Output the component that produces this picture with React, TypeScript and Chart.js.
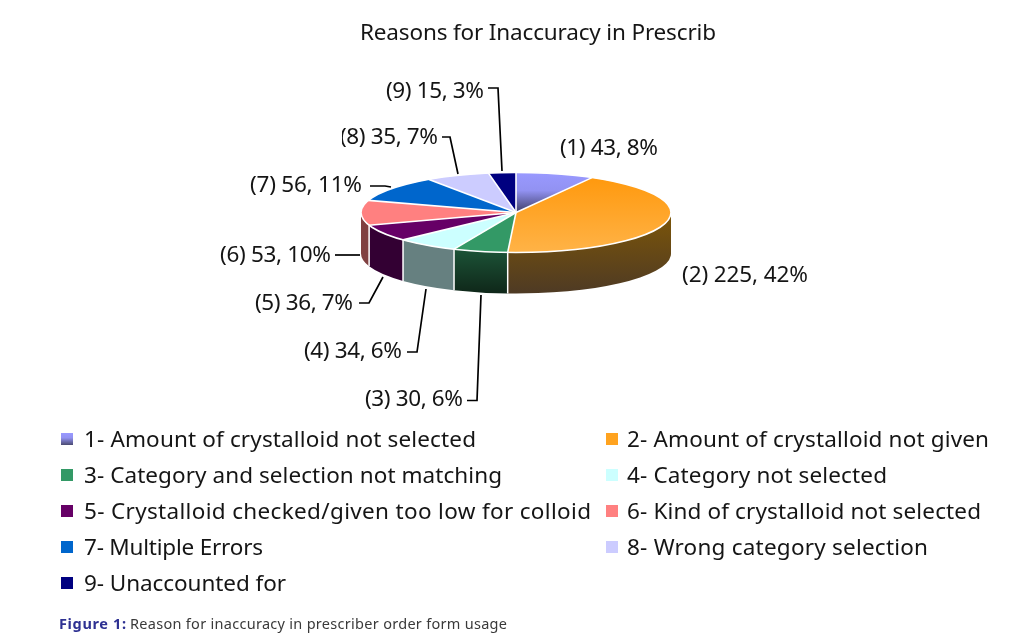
import React, { useEffect, useRef } from "react";
import { Chart, registerables } from "chart.js";

Chart.register(...registerables);

const chartTitle = "Reasons for Inaccuracy in Prescrib";
const captionLead = "Figure 1:";
const captionBody = "Reason for inaccuracy in prescriber order form usage";

const categories = [
  "1- Amount of crystalloid not selected",
  "2- Amount of crystalloid not given",
  "3- Category and selection not matching",
  "4- Category not selected",
  "5- Crystalloid checked/given too low for colloid",
  "6- Kind of crystalloid not selected",
  "7- Multiple Errors",
  "8- Wrong category selection",
  "9- Unaccounted for",
];
const values = [43, 225, 30, 34, 36, 53, 56, 35, 15];
const percents = [8, 42, 6, 6, 7, 10, 11, 7, 3];

const faceColors = ["#9999ff", "#ffa31f", "#339966", "#ccffff", "#660066", "#ff8080", "#0066cc", "#ccccff", "#000080"];
const wallColors = ["#4d4d80", "#6b4a18", "#1a4d33", "#668080", "#330033", "#804040", "#003366", "#666680", "#000040"];

// Pie geometry on the page
const CX = 516;
const CY = 212.5;
const RX = 155;
const RY = 40;
const DEPTH = 41;
const K = RY / RX;
const FONT = "'Noto Sans', sans-serif";
const INK = "#151515";

// text right edge, text width, text y, leader polyline; entries 0 and 1 have no leader
const labelLayout: { right: number; width: number; y: number; line: number[][] }[] = [
  { right: 658, width: 98, y: 147, line: [] },
  { right: 808, width: 126, y: 274, line: [] },
  { right: 463, width: 98, y: 398, line: [[467, 400.5], [477, 400.5], [481, 295]] },
  { right: 402, width: 98, y: 350, line: [[407, 352], [417, 352], [426, 289]] },
  { right: 353, width: 98, y: 302, line: [[359, 303], [369, 303], [383, 277]] },
  { right: 331, width: 111, y: 254, line: [[335, 255], [360, 255]] },
  { right: 362, width: 112, y: 184, line: [[370, 186], [385, 186], [391, 187]] },
  { right: 438, width: 98, y: 136, line: [[442, 137], [450, 137], [458, 174]] },
  { right: 484, width: 98, y: 90, line: [[488, 88], [498, 88], [502, 171]] },
];
const clippedLabelIndex = 7;
const clippedLabelLeft = 342;

// swatch column x, row y, text right edge
const legendColumns = [61, 606];
const legendRows = [439, 475, 511, 547, 583];
const legendEnds = [476, 989, 502, 887, 591, 981, 263, 928, 286];

function fitText(ctx: CanvasRenderingContext2D, text: string, x: number, y: number, width: number, font: string, color: string) {
  ctx.font = font;
  ctx.fillStyle = color;
  ctx.textAlign = "left";
  ctx.textBaseline = "alphabetic";
  (ctx as any).letterSpacing = "0px";
  const w = ctx.measureText(text).width;
  (ctx as any).letterSpacing = `${(width - w) / Math.max(1, text.length - 1)}px`;
  ctx.fillText(text, x, y);
  (ctx as any).letterSpacing = "0px";
}

function faceFill(c: any) {
  const i = c.dataIndex;
  const chart = c.chart;
  if (i === 0) {
    const g = chart.ctx.createLinearGradient(0, CY - RX, 0, CY);
    g.addColorStop(0, "#9999ff");
    g.addColorStop(0.45, "#9292f2");
    g.addColorStop(1, "#3e3e68");
    return g;
  }
  if (i === 1) {
    const g = chart.ctx.createLinearGradient(0, CY - RX, 0, CY + RX);
    g.addColorStop(0.1, "#ff9a10");
    g.addColorStop(1, "#ffb347");
    return g;
  }
  return faceColors[i];
}

function wallFill(ctx: CanvasRenderingContext2D, i: number) {
  if (i === 1) {
    const g = ctx.createLinearGradient(0, CY, 0, CY + RY + DEPTH);
    g.addColorStop(0, "#7d5608");
    g.addColorStop(1, "#4e3a24");
    return g;
  }
  if (i === 2) {
    const g = ctx.createLinearGradient(0, CY + RY, 0, CY + RY + DEPTH);
    g.addColorStop(0, "#1b5035");
    g.addColorStop(1, "#0f2719");
    return g;
  }
  return wallColors[i];
}

const pie3d = {
  id: "pie3d",
  beforeDatasetsDraw(chart: any) {
    const { ctx } = chart;
    const arcs = chart.getDatasetMeta(0).data;
    const { x: cx, y: cy, outerRadius: r } = arcs[0];
    const ry = r * K;
    ctx.save();
    // side walls: only the part of the rim that faces the viewer
    arcs.forEach((arc: any, i: number) => {
      const a = Math.max(arc.startAngle, 0);
      const b = Math.min(arc.endAngle, Math.PI);
      if (b <= a) return;
      ctx.beginPath();
      ctx.ellipse(cx, cy, r, ry, 0, a, b);
      ctx.ellipse(cx, cy + DEPTH, r, ry, 0, b, a, true);
      ctx.closePath();
      ctx.fillStyle = wallFill(ctx, i);
      ctx.fill();
    });
    ctx.strokeStyle = "#ffffff";
    ctx.lineWidth = 1.5;
    arcs.forEach((arc: any) => {
      const a = arc.endAngle;
      if (a > 0 && a < Math.PI) {
        const x = cx + r * Math.cos(a);
        const y = cy + ry * Math.sin(a);
        ctx.beginPath();
        ctx.moveTo(x, y);
        ctx.lineTo(x, y + DEPTH);
        ctx.stroke();
      }
    });
    ctx.restore();
    // squash the round pie into the tilted ellipse
    ctx.save();
    ctx.translate(cx, cy);
    ctx.scale(1, K);
    ctx.translate(-cx, -cy);
  },
  afterDatasetsDraw(chart: any) {
    const { ctx } = chart;
    ctx.restore();
    const arcs = chart.getDatasetMeta(0).data;
    const { x: cx, y: cy, outerRadius: r } = arcs[0];
    const ry = r * K;
    ctx.save();
    ctx.strokeStyle = "#ffffff";
    ctx.lineWidth = 1.6;
    arcs.forEach((arc: any) => {
      const a = arc.startAngle;
      ctx.beginPath();
      ctx.moveTo(cx, cy);
      ctx.lineTo(cx + r * Math.cos(a), cy + ry * Math.sin(a));
      ctx.stroke();
    });
    ctx.beginPath();
    ctx.ellipse(cx, cy, r, ry, 0, 0, Math.PI * 2);
    ctx.stroke();
    ctx.restore();
  },
  afterDraw(chart: any) {
    const { ctx } = chart;
    ctx.save();

    fitText(ctx, chartTitle, 360, 40, 356, `22.5px ${FONT}`, INK);

    // data labels and leaders
    values.forEach((v, i) => {
      const l = labelLayout[i];
      const text = `(${i + 1}) ${v}, ${percents[i]}%`;
      ctx.save();
      if (i === clippedLabelIndex) {
        ctx.beginPath();
        ctx.rect(clippedLabelLeft, l.y - 30, 200, 60);
        ctx.clip();
      }
      fitText(ctx, text, l.right - l.width, l.y + 8, l.width, `22.5px ${FONT}`, INK);
      ctx.restore();
      if (l.line.length) {
        ctx.strokeStyle = "#000000";
        ctx.lineWidth = 1.7;
        ctx.beginPath();
        l.line.forEach(([x, y], n) => (n ? ctx.lineTo(x, y) : ctx.moveTo(x, y)));
        ctx.stroke();
      }
    });

    // legend
    categories.forEach((name, i) => {
      const col = legendColumns[i % 2];
      const y = legendRows[Math.floor(i / 2)];
      if (i === 0) {
        const g = ctx.createLinearGradient(0, y - 6, 0, y + 6);
        g.addColorStop(0, "#9999ff");
        g.addColorStop(0.4, "#9292f2");
        g.addColorStop(1, "#4a4a70");
        ctx.fillStyle = g;
      } else {
        ctx.fillStyle = faceColors[i];
      }
      ctx.fillRect(col, y - 6, 12, 12);
      const x = col + (i % 2 ? 21 : 23);
      fitText(ctx, name, x, y + 8, legendEnds[i] - x, `22.5px ${FONT}`, INK);
    });

    // caption
    fitText(ctx, captionLead, 59, 629, 67, `bold 14.5px ${FONT}`, "#2e3192");
    fitText(ctx, captionBody, 130, 629, 377, `14.5px ${FONT}`, "#3a3a3a");

    ctx.restore();
  },
};

export default function App() {
  const ref = useRef<HTMLCanvasElement>(null);
  useEffect(() => {
    if (!ref.current) return;
    const chart = new Chart(ref.current, {
      type: "pie",
      data: {
        labels: categories,
        datasets: [{ data: values, backgroundColor: faceFill as any, borderWidth: 0 }],
      },
      options: {
        responsive: false,
        animation: false,
        layout: {
          padding: { left: CX - RX, right: 1017 - CX - RX, top: CY - RX, bottom: 640 - CY - RX },
        },
        plugins: { legend: { display: false }, title: { display: false }, tooltip: { enabled: false } },
      },
      plugins: [pie3d],
    });
    return () => chart.destroy();
  }, []);
  return (
    <canvas
      ref={ref}
      width={1017}
      height={640}
      style={{ position: "fixed", left: 0, top: 0, width: 1017, height: 640, background: "#ffffff" }}
    />
  );
}
